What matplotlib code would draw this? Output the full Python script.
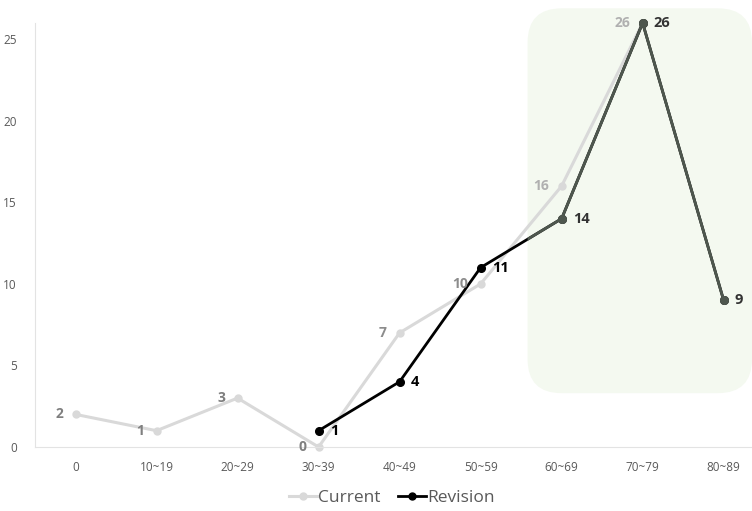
import matplotlib.pyplot as plt
from matplotlib.patches import FancyBboxPatch
import numpy as np

plt.rcParams['font.family'] = ['Open Sans', 'DejaVu Sans']

categories = ['0', '10~19', '20~29', '30~39', '40~49', '50~59', '60~69', '70~79', '80~89']
current = [2, 1, 3, 0, 7, 10, 16, 26, np.nan]
revision = [np.nan, np.nan, np.nan, 1, 4, 11, 14, 26, 9]

c_line = '#d9d9d9'
c_rev = '#000000'
c_rev_hl = '#4e574e'
c_shade = '#f4f9f0'

fig = plt.figure(figsize=(7.52, 5.11), dpi=100)
ax = fig.add_axes([35 / 752, 1 - 447 / 511, 1 - 35 / 752, 424 / 511])
x = np.arange(len(categories))

# highlighted region (rounded box)
shade = FancyBboxPatch((5.58, 3.3), 2.77, 23.6,
                       boxstyle='round,pad=0,rounding_size=0.42',
                       mutation_aspect=81 / 16.3,
                       fc=c_shade, ec='none', zorder=0, clip_on=False)
ax.add_patch(shade)

ax.plot(x, current, color=c_line, lw=2.2, marker='o', ms=5, zorder=2, clip_on=False)
ax.plot(x, revision, color=c_rev, lw=2, marker='o', ms=5.5, zorder=3, clip_on=False)
hl, = ax.plot(x, revision, color=c_rev_hl, lw=2, marker='o', ms=5.5, zorder=4)
hl.set_clip_path(shade)

# labels for current series (left of points)
for i, v in enumerate(current):
    if np.isnan(v):
        continue
    col = '#b0b0b0' if i >= 6 else ('#8c8c8c' if i >= 4 else '#7f7f7f')
    ax.annotate(str(int(v)), (i, v), xytext=(-9, 0), textcoords='offset points',
                ha='right', va='center', fontsize=10, fontweight='bold', color=col, zorder=5)

# labels for revision series (right of points)
for i, v in enumerate(revision):
    if np.isnan(v):
        continue
    col = '#333333' if i >= 6 else '#000000'
    ax.annotate(str(int(v)), (i, v), xytext=(8, 0), textcoords='offset points',
                ha='left', va='center', fontsize=10.5, fontweight='bold', color=col, zorder=5)

ax.set_xlim(-0.5, 8.35)
ax.set_ylim(0, 26)
ax.set_xticks(x)
ax.set_xticklabels(categories)
ax.set_yticks([0, 5, 10, 15, 20, 25])
ax.tick_params(length=0, labelsize=8.5, colors='#595959', pad=10)
ax.tick_params(axis='y', pad=13)
for s in ['top', 'right']:
    ax.spines[s].set_visible(False)
ax.spines['left'].set_color('#e3e3e3')
ax.spines['bottom'].set_color('#e3e3e3')

leg_current, = ax.plot([], [], color=c_line, lw=2.2, marker='o', ms=5)
leg_rev, = ax.plot([], [], color=c_rev, lw=2, marker='o', ms=5)
fig.legend([leg_current, leg_rev], ['Current', 'Revision'], loc='center',
           bbox_to_anchor=(392 / 752, 1 - 498 / 511), ncol=2, frameon=False,
           fontsize=12.5, handlelength=1.6, handletextpad=0.1, columnspacing=1.0,
           labelcolor='#595959')

fig.savefig('out.png', dpi=100)
